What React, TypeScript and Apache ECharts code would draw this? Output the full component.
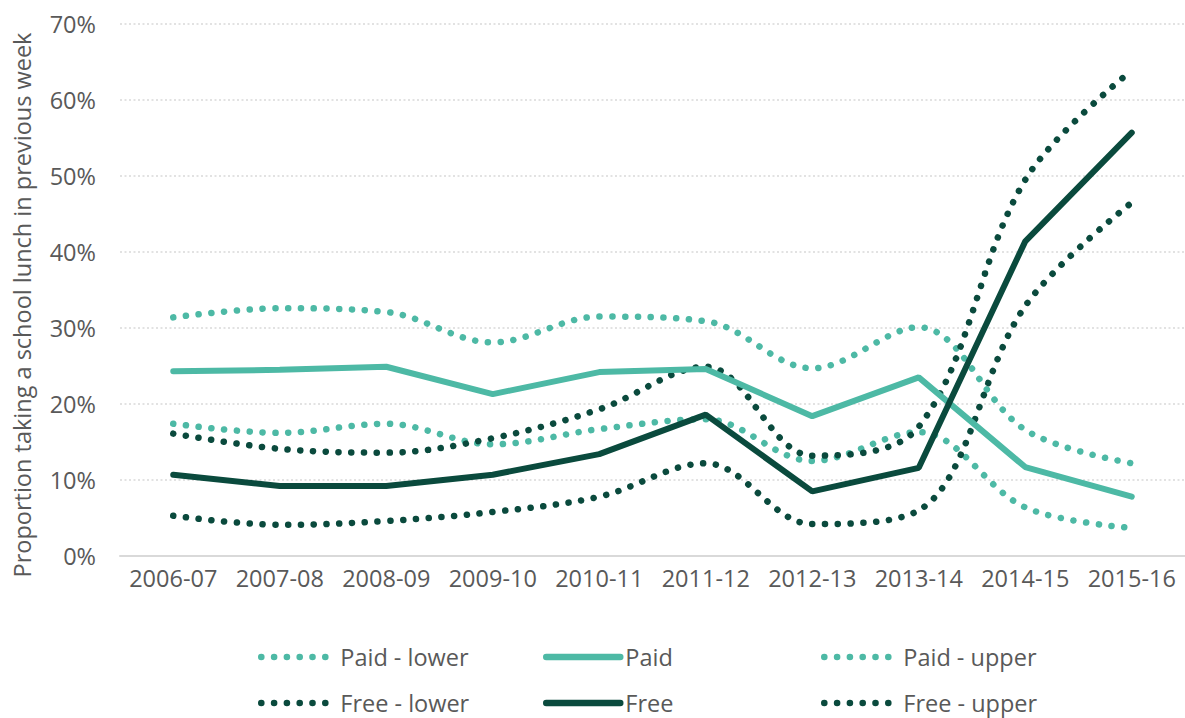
import React, { useEffect, useRef } from "react";
import * as echarts from "echarts";

const categories = ["2006-07", "2007-08", "2008-09", "2009-10", "2010-11", "2011-12", "2012-13", "2013-14", "2014-15", "2015-16"];
const paidLower = [17.4, 16.2, 17.4, 14.7, 16.7, 18.0, 12.5, 16.3, 6.4, 3.7];
const paid = [24.3, 24.5, 24.9, 21.3, 24.2, 24.6, 18.4, 23.5, 11.7, 7.8];
const paidUpper = [31.4, 32.6, 32.1, 28.1, 31.5, 30.9, 24.7, 30.1, 16.6, 12.2];
const freeLower = [5.3, 4.1, 4.6, 5.8, 7.8, 12.2, 4.2, 6.0, 32.9, 46.5];
const free = [10.7, 9.2, 9.2, 10.7, 13.4, 18.6, 8.5, 11.6, 41.4, 55.7];
const freeUpper = [16.1, 14.1, 13.6, 15.5, 19.3, 24.9, 13.2, 17.0, 49.5, 63.9];
const yTicks = [0, 10, 20, 30, 40, 50, 60, 70];
const yAxisTitle = "Proportion taking a school lunch in previous week";
const legendRows = [
  ["Paid - lower", "Paid", "Paid - upper"],
  ["Free - lower", "Free", "Free - upper"],
];

const TEAL = "#4DB9A5";
const DARK = "#0A4A3D";
const TEXT = "#595959";
const FONT = "Open Sans";
const FS = 23.5;

function dotted(name: string, data: number[], color: string) {
  return {
    name,
    type: "line",
    data,
    smooth: 0.35,
    symbol: "none",
    lineStyle: { color, width: 6.5, type: [0.1, 12.7], cap: "round" },
    itemStyle: { color },
  };
}
function solid(name: string, data: number[], color: string) {
  return {
    name,
    type: "line",
    data,
    symbol: "none",
    lineStyle: { color, width: 6, type: "solid", cap: "round" },
    itemStyle: { color },
  };
}

export default function App() {
  const ref = useRef<HTMLDivElement>(null);
  useEffect(() => {
    if (!ref.current) return;
    const chart = echarts.init(ref.current, null, { renderer: "svg" });
    const colLefts = [258, 543, 821];
    const rowTops = [643, 689];
    const legends: any[] = [];
    legendRows.forEach((row, r) =>
      row.forEach((name, c) =>
        legends.push({
          orient: "horizontal",
          left: colLefts[c],
          top: rowTops[r],
          padding: 0,
          itemWidth: 74,
          itemHeight: 8,
          itemGap: 0,
          selectedMode: false,
          itemStyle: { opacity: 0 },
          lineStyle: { width: 6.5, cap: "round" },
          textStyle: { color: TEXT, fontFamily: FONT, fontSize: FS, lineHeight: 28 },
          data: [name],
        })
      )
    );
    chart.setOption({
      animation: false,
      textStyle: { fontFamily: FONT },
      grid: { left: 120, right: 0, top: 24, bottom: 162, containLabel: false },
      xAxis: {
        type: "category",
        data: categories,
        boundaryGap: true,
        axisLine: { show: true, lineStyle: { color: "#D9D9D9", width: 2 } },
        axisTick: { show: false },
        axisLabel: { color: TEXT, fontSize: FS, fontFamily: FONT, margin: 10, interval: 0 },
      },
      yAxis: {
        type: "value",
        min: 0,
        max: 70,
        interval: 10,
        axisLine: { show: false },
        axisTick: { show: false },
        axisLabel: {
          color: TEXT,
          fontSize: FS,
          fontFamily: FONT,
          margin: 24,
          formatter: (v: number) => (yTicks.includes(v) ? `${v}%` : ""),
        },
        splitLine: { show: true, lineStyle: { color: "#D9D9D9", width: 1.5, type: [2, 2.5] } },
      },
      graphic: [
        {
          type: "text",
          x: 22,
          y: 305,
          rotation: Math.PI / 2,
          style: {
            text: yAxisTitle,
            fill: TEXT,
            fontFamily: FONT,
            fontSize: FS,
            align: "center",
            verticalAlign: "middle",
          },
        },
      ],
      legend: legends,
      series: [
        dotted("Paid - lower", paidLower, TEAL),
        dotted("Paid - upper", paidUpper, TEAL),
        dotted("Free - lower", freeLower, DARK),
        dotted("Free - upper", freeUpper, DARK),
        solid("Paid", paid, TEAL),
        solid("Free", free, DARK),
      ],
    });
    return () => chart.dispose();
  }, []);
  return (
    <div
      ref={ref}
      style={{ position: "fixed", left: 0, top: 0, width: 1185, height: 718, background: "#fff" }}
    />
  );
}
